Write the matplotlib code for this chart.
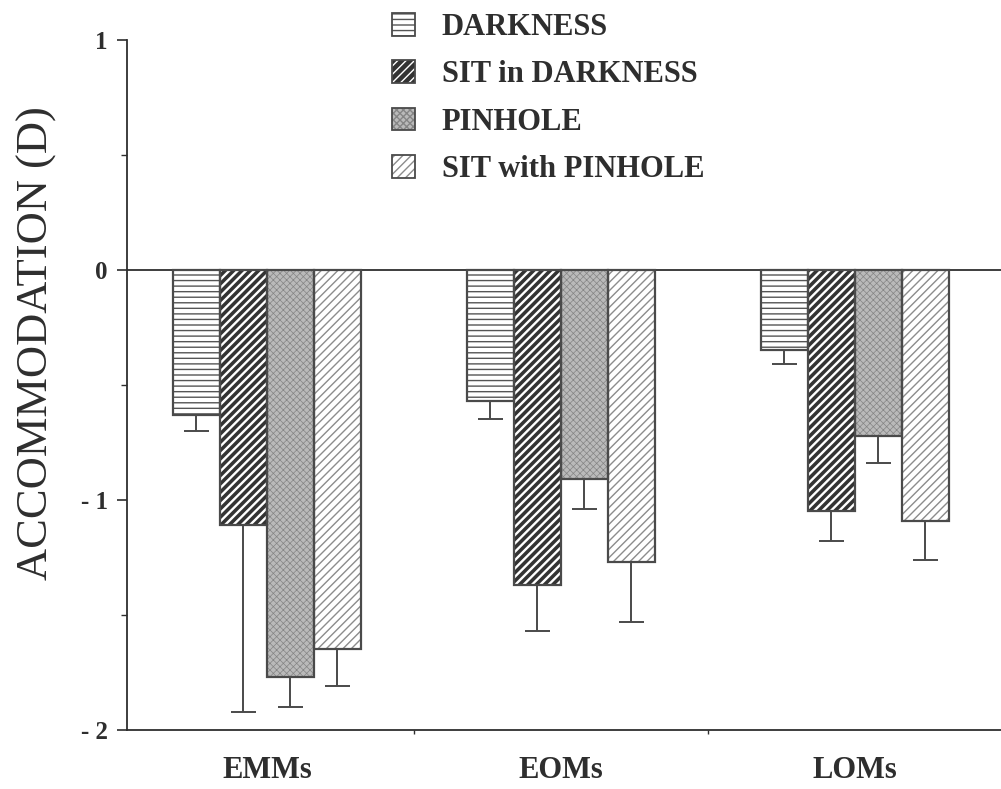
import matplotlib
matplotlib.use("Agg")
import matplotlib.pyplot as plt
import numpy as np
from matplotlib.patches import Patch
from matplotlib.legend_handler import HandlerTuple

# Mean accommodation (D) per refractive group and condition, with SEM
groups = ["EMMs", "EOMs", "LOMs"]
conditions = ["DARKNESS", "SIT in DARKNESS", "PINHOLE", "SIT with PINHOLE"]
darkness = [-0.63, -0.57, -0.35]
darkness_err = [0.07, 0.08, 0.06]
sit_darkness = [-1.11, -1.37, -1.05]
sit_darkness_err = [0.81, 0.20, 0.13]
pinhole = [-1.77, -0.91, -0.72]
pinhole_err = [0.13, 0.13, 0.12]
sit_pinhole = [-1.65, -1.27, -1.09]
sit_pinhole_err = [0.16, 0.26, 0.17]
ytick_values = [-2, -1, 0, 1]
ytick_labels = ["- 2", "- 1", "0", "1"]

series = [darkness, sit_darkness, pinhole, sit_pinhole]
errors = [darkness_err, sit_darkness_err, pinhole_err, sit_pinhole_err]

INK = "#2e2e2e"
EDGE = "#4a4a4a"
plt.rcParams["font.family"] = ["Liberation Serif", "DejaVu Serif"]

# fill styles: (face, hatch, hatch colour, hatch linewidth)
styles = [
    ("white", "---", "#555555", 1.0),
    ("#333333", "////", "white", 1.7),
    ("#bababa", "xxxxx", "#858585", 0.5),
    ("white", "////", "#8c8c8c", 1.0),
]

fig = plt.figure(figsize=(10.01, 7.89), dpi=100)
ax = fig.add_axes([127 / 1001, 1 - 730 / 789, 1 - 127 / 1001, 690 / 789])

x = np.arange(len(groups))
w = 0.16
offsets = np.array([-1.5, -0.5, 0.5, 1.5]) * w


def hatch_patch(artist, hlw):
    if hasattr(artist, "set_hatch_linewidth"):
        artist.set_hatch_linewidth(hlw)


for vals, errs, off, st in zip(series, errors, offsets, styles):
    face, hatch, hcol, hlw = st
    with plt.rc_context({"hatch.linewidth": hlw}):
        fill = ax.bar(x + off, vals, w, color=face, edgecolor=hcol,
                      hatch=hatch, linewidth=0, zorder=2)
    for p in fill:
        hatch_patch(p, hlw)
    ax.bar(x + off, vals, w, fill=False, edgecolor=EDGE, linewidth=1.6,
           zorder=3)
    lower = np.array(errs)
    ax.errorbar(x + off, vals, yerr=[lower, np.zeros_like(lower)], fmt="none",
                ecolor=EDGE, elinewidth=1.4, capsize=9, capthick=1.4,
                zorder=4)

ax.axhline(0, color=INK, linewidth=1.3, zorder=1)

ax.set_ylim(-2, 1)
ax.set_xlim(-0.476, 2.497)
ax.set_yticks(ytick_values)
ax.set_yticklabels(ytick_labels)
ax.set_yticks([-1.5, -0.5, 0.5], minor=True)
ax.tick_params(axis="y", which="major", direction="out", length=7, width=1.2,
               color=INK, pad=7, labelsize=18, labelcolor=INK)
ax.tick_params(axis="y", which="minor", direction="out", length=4, width=1.0,
               color=INK)
for lab in ax.get_yticklabels():
    lab.set_fontweight("bold")

ax.set_xticks(x)
ax.set_xticklabels(groups, fontsize=22, fontweight="bold", color=INK)
ax.set_xticks([0.5, 1.5], minor=True)
ax.tick_params(axis="x", which="major", length=0, pad=19)
ax.tick_params(axis="x", which="minor", direction="out", length=3, width=1.0,
               color=INK)

for side in ("top", "right"):
    ax.spines[side].set_visible(False)
for side in ("left", "bottom"):
    ax.spines[side].set_color(INK)
    ax.spines[side].set_linewidth(1.3)

fig.text(37 / 1001, 1 - 343 / 789, "ACCOMMODATION (D)", rotation=90,
         ha="center", va="center", fontsize=32, color=INK)

# legend swatches: hatched fill with an outline drawn over it
handles = []
for face, hatch, hcol, hlw in styles:
    with plt.rc_context({"hatch.linewidth": hlw}):
        swatch = Patch(facecolor=face, edgecolor=hcol, hatch=hatch,
                       linewidth=0)
    hatch_patch(swatch, hlw)
    outline = Patch(fill=False, edgecolor=EDGE, linewidth=1.3)
    handles.append((swatch, outline))

leg = fig.legend(handles, conditions, loc="upper left",
                 bbox_to_anchor=(392 / 1001, 1 - 13 / 789), frameon=False,
                 prop={"size": 22, "weight": "bold"}, handlelength=0.75,
                 handleheight=0.75, handletextpad=0.88, labelspacing=0.6,
                 borderpad=0, borderaxespad=0,
                 handler_map={tuple: HandlerTuple(ndivide=1, pad=0)})
for t in leg.get_texts():
    t.set_color(INK)

fig.savefig("out.png", dpi=100, facecolor="white")
